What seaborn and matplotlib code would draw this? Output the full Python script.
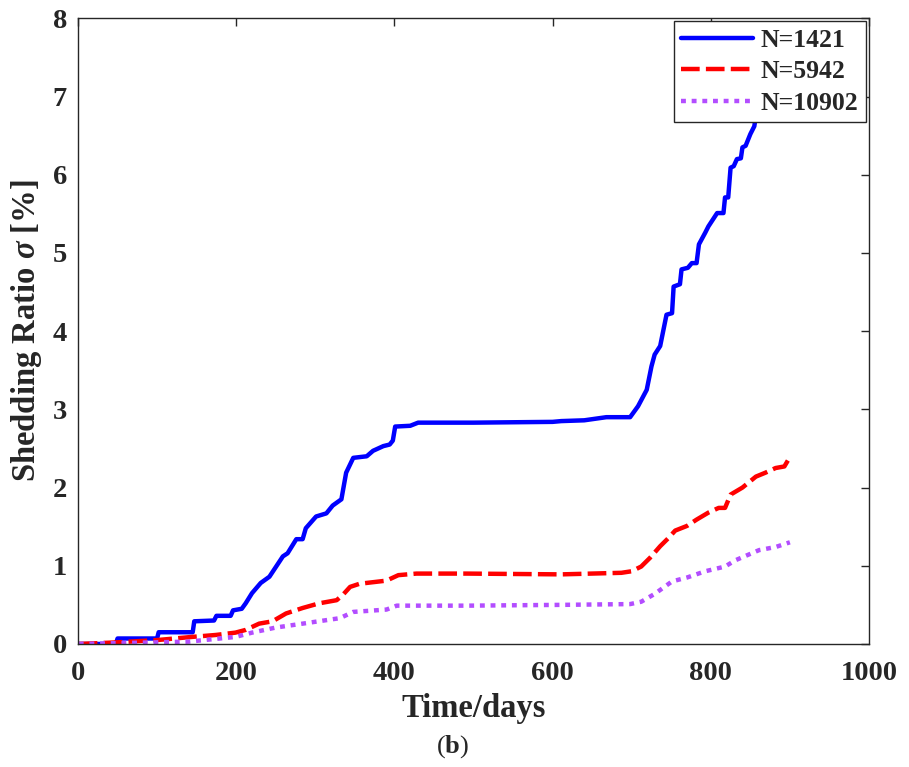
import matplotlib
matplotlib.use("Agg")
import matplotlib.pyplot as plt
import seaborn as sns
import pandas as pd

# ---- data ----
days_1421 = [1, 48, 50, 100, 102, 145, 147, 172, 175, 193,
             196, 207, 212, 220, 231, 242, 259, 265, 276, 284,
             288, 301, 314, 322, 333, 339, 348, 365, 373, 386,
             394, 398, 401, 420, 430, 500, 600, 611, 640, 668,
             698, 708, 719, 725, 729, 736, 744, 751, 753, 761,
             763, 771, 776, 782, 785, 793, 797, 808, 816, 818,
             822, 825, 829, 833, 838, 840, 844, 850, 855, 857,
             870, 885, 900]
ratio_1421 = [0, 0, 0.07, 0.07, 0.15, 0.15, 0.29, 0.30, 0.36, 0.36,
              0.43, 0.45, 0.52, 0.65, 0.78, 0.86, 1.12, 1.16, 1.34, 1.34,
              1.48, 1.63, 1.67, 1.77, 1.85, 2.19, 2.38, 2.40, 2.47, 2.53,
              2.55, 2.60, 2.78, 2.79, 2.83, 2.83, 2.84, 2.85, 2.86, 2.90,
              2.90, 3.04, 3.25, 3.55, 3.70, 3.81, 4.21, 4.23, 4.57, 4.60,
              4.79, 4.81, 4.87, 4.87, 5.11, 5.26, 5.34, 5.51, 5.51, 5.71,
              5.71, 6.09, 6.11, 6.20, 6.21, 6.35, 6.37, 6.52, 6.62, 6.75,
              7.05, 7.35, 7.65]

days_5942 = [1, 48, 100, 144, 174, 199, 212, 229, 246, 263,
             284, 305, 327, 335, 344, 356, 390, 405, 428, 492,
             611, 687, 700, 712, 723, 736, 746, 755, 770, 782,
             797, 810, 818, 825, 840, 857, 869, 882, 893, 900]
ratio_5942 = [0, 0.02, 0.05, 0.09, 0.115, 0.145, 0.18, 0.26, 0.29, 0.39,
              0.46, 0.52, 0.56, 0.63, 0.73, 0.77, 0.81, 0.88, 0.90, 0.90,
              0.89, 0.91, 0.93, 0.99, 1.10, 1.25, 1.35, 1.45, 1.51, 1.59,
              1.68, 1.74, 1.74, 1.91, 2.00, 2.14, 2.19, 2.25, 2.27, 2.39]

days_10902 = [1, 140, 199, 220, 250, 284, 331, 348, 390, 403,
              492, 611, 698, 712, 729, 751, 770, 793, 818, 831,
              861, 882, 900]
ratio_10902 = [0, 0.03, 0.09, 0.145, 0.21, 0.26, 0.33, 0.41, 0.44, 0.49,
               0.49, 0.50, 0.51, 0.54, 0.64, 0.80, 0.85, 0.93, 0.99, 1.07,
               1.20, 1.24, 1.30]

labels = ["N=1421", "N=5942", "N=10902"]
x_ticks = [0, 200, 400, 600, 800, 1000]
y_ticks = [0, 1, 2, 3, 4, 5, 6, 7, 8]

# ---- style ----
sns.set_theme(style="white")
plt.rcParams["font.family"] = ["Liberation Serif", "DejaVu Serif"]
plt.rcParams["font.weight"] = "bold"
plt.rcParams["mathtext.fontset"] = "custom"
plt.rcParams["mathtext.rm"] = "Liberation Serif:bold"
plt.rcParams["mathtext.it"] = "Liberation Serif:italic:bold"
plt.rcParams["mathtext.bf"] = "Liberation Serif:bold"

fig = plt.figure(figsize=(9.09, 7.67), dpi=100)
ax = fig.add_axes([0.0858, 0.1604, 0.956 - 0.0858, 0.9761 - 0.1604])

series = [
    (days_1421, ratio_1421, labels[0], "#0000FF", (None, None)),
    (days_5942, ratio_5942, labels[1], "#FF0000", (4.2, 1.4)),
    (days_10902, ratio_10902, labels[2], "#B34DFF", (1.1, 1.3)),
]
for d, r, lab, col, dash in series:
    df = pd.DataFrame({"days": d, "ratio": r})
    line_ax = sns.lineplot(data=df, x="days", y="ratio", ax=ax, color=col,
                           linewidth=3.2, estimator=None, sort=False, label=lab)
    if dash[0] is not None:
        line_ax.lines[-1].set_dashes(dash)

ax.set_xlim(0, 1000)
ax.set_ylim(0, 8)
ax.set_xticks(x_ticks)
ax.set_yticks(y_ticks)
ax.set_xticklabels([str(t) for t in x_ticks], fontsize=20.5, fontweight="bold")
ax.set_yticklabels([str(t) for t in y_ticks], fontsize=20.5, fontweight="bold")
ax.tick_params(direction="in", length=6, width=1, top=True, right=True,
               color="#262626")
ax.tick_params(axis="x", pad=12)
ax.tick_params(axis="y", pad=8)
for s in ax.spines.values():
    s.set_color("#262626")
    s.set_linewidth(1.0)

ax.set_xlabel("Time/days", fontsize=23.5, fontweight="bold", labelpad=5)
ax.set_ylabel(r"Shedding Ratio $\sigma$ [%]", fontsize=23.5, fontweight="bold",
              labelpad=6)

leg = ax.legend(loc="upper right", fontsize=18.5, frameon=True, fancybox=False,
                borderaxespad=0.1, handlelength=2.8, handletextpad=0.3,
                labelspacing=0.33, borderpad=0.3)
leg.get_frame().set_edgecolor("#262626")
leg.get_frame().set_linewidth(1.0)
leg.get_frame().set_alpha(1.0)
for t in leg.get_texts():
    t.set_fontweight("bold")

fig.text(0.498, 0.026, r"($\mathbf{b}$)", ha="center", va="center",
         fontsize=19, fontweight="normal")

fig.savefig("out.png", dpi=100)
